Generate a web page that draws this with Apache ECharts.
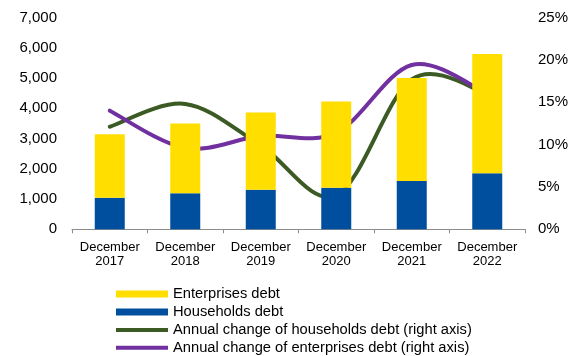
<!DOCTYPE html>
<html>
<head>
<meta charset="utf-8">
<script src="https://cdn.jsdelivr.net/npm/echarts@6/dist/echarts.min.js"></script>
<style>
  html, body { margin: 0; padding: 0; background: #fff; }
  #chart { width: 579px; height: 356px; }
</style>
</head>
<body>
<div id="chart"></div>
<script>
// Categories and values (debt in millions, annual change in %)
const categories = ['December\n2017', 'December\n2018', 'December\n2019', 'December\n2020', 'December\n2021', 'December\n2022'];
const householdsDebt = [1040, 1190, 1310, 1370, 1600, 1855];
const enterprisesDebt = [2105, 2310, 2550, 2850, 3400, 3940];
const householdsChange = [12.1, 14.8, 9.9, 4.0, 17.7, 16.0];
const enterprisesChange = [14.0, 9.6, 11.0, 11.4, 19.4, 16.0];

const leftTicks = { min: 0, max: 7000, interval: 1000 };
const rightTicks = { min: 0, max: 25, interval: 5 };

const FONT = 'Liberation Sans, Arial, sans-serif';
const YELLOW = '#ffde00';
const BLUE = '#004f9f';
const GREEN = '#3b5a24';
const PURPLE = '#7030a0';

const NAMES = {
  ent: 'Enterprises debt',
  hh: 'Households debt',
  hhChg: 'Annual change of households debt (right axis)',
  entChg: 'Annual change of enterprises debt (right axis)'
};

function legendRow(name, top, h) {
  return {
    data: [name],
    left: 116,
    top: top,
    orient: 'vertical',
    itemWidth: 52,
    itemHeight: h,
    itemGap: 0,
    padding: 0,
    icon: 'rect',
    selectedMode: false,
    textStyle: { fontFamily: FONT, fontSize: 14.7, color: '#000' }
  };
}

// Smooth curve through the points of one series: each segment is a cubic
// Bezier whose tangents come from the neighbouring points (Catmull-Rom).
function smoothLine(values, color) {
  return function (params, api) {
    const i = params.dataIndex;
    const n = values.length;
    if (i >= n - 1) return null;
    const pt = k => {
      const j = Math.max(0, Math.min(n - 1, k));
      return api.coord([j, values[j]]);
    };
    const p0 = pt(i - 1), p1 = pt(i), p2 = pt(i + 1), p3 = pt(i + 2);
    return {
      type: 'bezierCurve',
      shape: {
        x1: p1[0], y1: p1[1],
        cpx1: p1[0] + (p2[0] - p0[0]) / 6, cpy1: p1[1] + (p2[1] - p0[1]) / 6,
        cpx2: p2[0] - (p3[0] - p1[0]) / 6, cpy2: p2[1] - (p3[1] - p1[1]) / 6,
        x2: p2[0], y2: p2[1]
      },
      style: { stroke: color, lineWidth: 4, fill: null, lineCap: 'round' }
    };
  };
}

const chart = echarts.init(document.getElementById('chart'));
chart.setOption({
  animation: false,
  textStyle: { fontFamily: FONT },
  grid: { left: 72, right: 54, top: 17.5, bottom: 126.7, containLabel: false },
  legend: [
    legendRow(NAMES.ent, 286.4, 7),
    legendRow(NAMES.hh, 304.4, 7),
    legendRow(NAMES.hhChg, 322.5, 4),
    legendRow(NAMES.entChg, 340.2, 4)
  ],
  xAxis: {
    type: 'category',
    data: categories,
    boundaryGap: true,
    axisLine: { lineStyle: { color: '#8c8c8c', width: 1 } },
    axisTick: { show: true, length: 4, lineStyle: { color: '#8c8c8c' } },
    axisLabel: { color: '#000', fontSize: 13, lineHeight: 14.5, margin: 10.5, interval: 0, fontFamily: FONT }
  },
  yAxis: [
    {
      type: 'value',
      min: leftTicks.min, max: leftTicks.max, interval: leftTicks.interval,
      axisLine: { show: false },
      axisTick: { show: false },
      splitLine: { show: false },
      axisLabel: {
        color: '#000', fontSize: 15, margin: 15, fontFamily: FONT,
        formatter: v => v.toLocaleString('en-US')
      }
    },
    {
      type: 'value',
      min: rightTicks.min, max: rightTicks.max, interval: rightTicks.interval,
      axisLine: { show: false },
      axisTick: { show: false },
      splitLine: { show: false },
      axisLabel: {
        color: '#000', fontSize: 15, margin: 13, fontFamily: FONT,
        formatter: v => v + '%'
      }
    }
  ],
  series: [
    {
      name: NAMES.hh, type: 'bar', stack: 'debt', data: householdsDebt,
      barWidth: 30, itemStyle: { color: BLUE }
    },
    {
      name: NAMES.ent, type: 'bar', stack: 'debt', data: enterprisesDebt,
      barWidth: 30, itemStyle: { color: YELLOW }
    },
    {
      name: NAMES.hhChg, type: 'custom', yAxisIndex: 1,
      data: householdsChange.map((v, i) => [i, v]),
      renderItem: smoothLine(householdsChange, GREEN),
      itemStyle: { color: GREEN }
    },
    {
      name: NAMES.entChg, type: 'custom', yAxisIndex: 1,
      data: enterprisesChange.map((v, i) => [i, v]),
      renderItem: smoothLine(enterprisesChange, PURPLE),
      itemStyle: { color: PURPLE }
    }
  ]
});
</script>
</body>
</html>
